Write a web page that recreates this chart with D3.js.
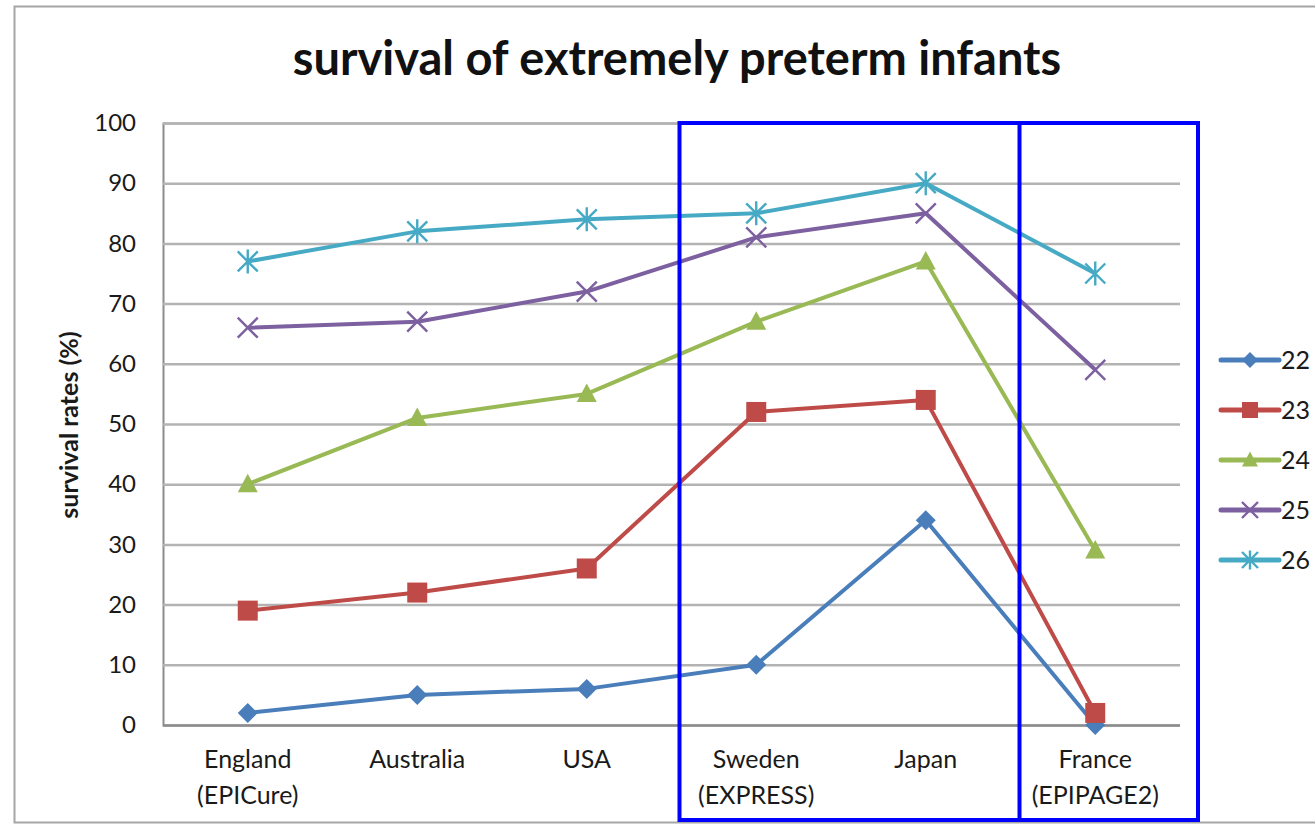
<!DOCTYPE html>
<html>
<head>
<meta charset="utf-8">
<script src="https://cdn.jsdelivr.net/npm/d3@7/dist/d3.min.js"></script>
<style>
  html, body { margin: 0; padding: 0; background: #fff; }
  svg { display: block; font-family: Lato, "Open Sans", sans-serif; }
</style>
</head>
<body>
<svg id="chart" width="1315" height="825"></svg>
<script>
// Study cohorts along the x axis (two-line labels)
const categories = [
  ["England", "(EPICure)"],
  ["Australia"],
  ["USA"],
  ["Sweden", "(EXPRESS)"],
  ["Japan"],
  ["France", "(EPIPAGE2)"]
];
// Survival (%) by gestational week
const weeks = ["22", "23", "24", "25", "26"];
const week22 = [2, 5, 6, 10, 34, 0];
const week23 = [19, 22, 26, 52, 54, 2];
const week24 = [40, 51, 55, 67, 77, 29];
const week25 = [66, 67, 72, 81, 85, 59];
const week26 = [77, 82, 84, 85, 90, 75];
const yTicks = [0, 10, 20, 30, 40, 50, 60, 70, 80, 90, 100];

const seriesValues = [week22, week23, week24, week25, week26];
const colors = ["#4a7ebb", "#be4b48", "#98b954", "#7d60a0", "#46aac5"];
const markers = ["diamond", "square", "triangle", "cross", "star"];

const svg = d3.select("#chart");
const margin = { left: 163, right: 1180, top: 123, bottom: 725 };

const x = d3.scaleBand().domain(d3.range(categories.length))
  .range([margin.left, margin.right]);
const y = d3.scaleLinear().domain([0, 100]).range([margin.bottom, margin.top]);
const cx = i => x(i) + x.bandwidth() / 2;

// Outer chart frame
svg.append("rect")
  .attr("x", 14.5).attr("y", 6.5).attr("width", 1330).attr("height", 816)
  .attr("fill", "#fff").attr("stroke", "#a6a6a6").attr("stroke-width", 2);

// Title
svg.append("text")
  .attr("x", 677).attr("y", 75)
  .attr("text-anchor", "middle")
  .attr("font-size", 47).attr("font-weight", "bold").attr("fill", "#111")
  .text("survival of extremely preterm infants");

// Horizontal gridlines and y tick labels
const yAxis = d3.axisLeft(y).tickValues(yTicks)
  .tickSize(-(margin.right - margin.left)).tickPadding(27)
  .tickFormat(d3.format("d"));
const gy = svg.append("g").attr("transform", `translate(${margin.left},0)`).call(yAxis);
gy.select(".domain").attr("stroke", "#8c8c8c").attr("stroke-width", 2);
gy.selectAll(".tick line").attr("stroke", "#b3b3b3").attr("stroke-width", 2.5);
gy.selectAll(".tick text")
  .attr("font-size", 24).attr("fill", "#1a1a1a")
  .attr("font-family", "Lato, 'Open Sans', sans-serif");
gy.selectAll(".tick").filter(d => d === 0).select("line")
  .attr("stroke", "#8c8c8c");

// Y axis title
svg.append("text")
  .attr("transform", "translate(78,425) rotate(-90)")
  .attr("text-anchor", "middle")
  .attr("font-size", 25).attr("font-weight", "bold").attr("fill", "#1a1a1a")
  .text("survival rates (%)");

// Category labels
const xl = svg.append("g");
categories.forEach((lines, i) => {
  const t = xl.append("text")
    .attr("x", cx(i)).attr("y", 768)
    .attr("text-anchor", "middle")
    .attr("font-size", 25).attr("fill", "#1a1a1a");
  lines.forEach((s, k) => {
    t.append("tspan").attr("x", cx(i)).attr("dy", k === 0 ? 0 : 36).text(s);
  });
});

// Marker shapes
function drawMarker(g, type, color, size) {
  const s = size;
  if (type === "diamond") {
    g.append("path").attr("d", `M0,${-s}L${s},0L0,${s}L${-s},0Z`).attr("fill", color);
  } else if (type === "square") {
    g.append("rect").attr("x", -s).attr("y", -s)
      .attr("width", s * 2).attr("height", s * 2).attr("fill", color);
  } else if (type === "triangle") {
    g.append("path").attr("d", `M0,${-s * 1.05}L${s},${s * 0.8}L${-s},${s * 0.8}Z`).attr("fill", color);
  } else if (type === "cross") {
    g.append("path").attr("d", `M${-s},${-s}L${s},${s}M${-s},${s}L${s},${-s}`)
      .attr("stroke", color).attr("stroke-width", 2.4).attr("fill", "none");
  } else if (type === "star") {
    g.append("path").attr("d", `M${-s},${-s}L${s},${s}M${-s},${s}L${s},${-s}M0,${-s * 1.2}L0,${s * 1.2}`)
      .attr("stroke", color).attr("stroke-width", 2.4).attr("fill", "none");
  }
}

// Series lines and markers
const line = d3.line().x((d, i) => cx(i)).y(d => y(d));
seriesValues.forEach((vals, si) => {
  const g = svg.append("g");
  g.append("path").datum(vals).attr("d", line)
    .attr("fill", "none").attr("stroke", colors[si]).attr("stroke-width", 4)
    .attr("stroke-linejoin", "round");
  vals.forEach((v, i) => {
    const m = g.append("g").attr("transform", `translate(${cx(i)},${y(v)})`);
    drawMarker(m, markers[si], colors[si], 10);
  });
});

// Highlight frames around the Sweden/Japan and France cohorts
const boxTop = y(100);
const boxLeft = x(3) + 8;
const boxMid = x(5) + 9;
const boxRight = margin.right + 18;
svg.append("rect")
  .attr("x", boxLeft).attr("y", boxTop)
  .attr("width", boxRight - boxLeft).attr("height", 820 - boxTop)
  .attr("fill", "none").attr("stroke", "#0000ff").attr("stroke-width", 4);
svg.append("line")
  .attr("x1", boxMid).attr("x2", boxMid).attr("y1", boxTop).attr("y2", 820)
  .attr("stroke", "#0000ff").attr("stroke-width", 4);

// Legend
const legend = svg.append("g");
weeks.forEach((w, i) => {
  const ly = 360 + i * 50;
  const g = legend.append("g");
  g.append("line").attr("x1", 1221).attr("x2", 1279).attr("y1", ly).attr("y2", ly)
    .attr("stroke", colors[i]).attr("stroke-width", 5).attr("stroke-linecap", "round");
  const m = g.append("g").attr("transform", `translate(1250,${ly})`);
  drawMarker(m, markers[i], colors[i], 8);
  g.append("text").attr("x", 1281).attr("y", ly + 9)
    .attr("font-size", 25).attr("fill", "#1a1a1a").text(w);
});
</script>
</body>
</html>
